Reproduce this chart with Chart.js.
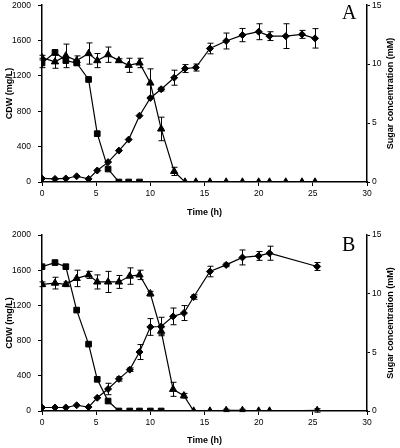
<!DOCTYPE html>
<html>
<head>
<meta charset="utf-8">
<script src="https://cdn.jsdelivr.net/npm/chart.js@4"></script>
<style>
    body { margin: 0; background: #fff; }
    canvas { display: block; }
</style>
</head>
<body>
<canvas id="chartA" width="400" height="222"></canvas>
<canvas id="chartB" width="400" height="226"></canvas>
<script>
// Panel A - times (h)
const timeA = [0, 1.2, 2.2, 3.2, 4.3, 5.1, 6.1, 7.1, 8, 9, 10, 11, 12.2, 13.2, 14.2, 15.5, 17, 18.5, 20, 21, 22.5, 24, 25.2];
// CDW (mg/L), diamonds
const cdwA = [40, 35, 40, 65, 35, 130, 225, 355, 480, 750, 950, 1050, 1180, 1283, 1295, 1510, 1595, 1662, 1700, 1650, 1650, 1670, 1625];
const cdwErrA = [0, 0, 0, 0, 0, 0, 0, 0, 0, 0, 0, 20, 85, 45, 40, 60, 90, 75, 90, 50, 140, 45, 110];
// sugars (mM), triangles and squares
const triA = [10.55, 10.2, 10.7, 10.3, 10.9, 10.3, 10.8, 10.3, 9.9, 10.1, 8.4, 4.5, 0.9, 0, 0, 0, 0, 0, 0, 0, 0, 0, 0];
const triErrA = [0.2, 0.55, 1.0, 0.4, 0.9, 0.6, 0.65, 0.15, 0.6, 0.4, 1.2, 1.0, 0.35, 0, 0, 0, 0, 0, 0, 0, 0, 0, 0];
const sqA = [10.1, 11.0, 10.3, 10.1, 8.7, 4.1, 1.1, 0, 0, 0];
const sqErrA = [0.4, 0, 0, 0, 0, 0, 0, 0, 0, 0];

// Panel B
const timeB = [0, 1.2, 2.2, 3.2, 4.3, 5.1, 6.1, 7.1, 8.1, 9, 10, 11, 12.1, 13.1, 14, 15.5, 17, 18.5, 20, 21, 25.4];
const cdwB = [40, 40, 40, 65, 45, 150, 250, 365, 470, 670, 955, 960, 1075, 1113, 1295, 1585, 1660, 1745, 1762, 1793, 1642];
const cdwErrB = [0, 0, 0, 0, 0, 0, 65, 25, 20, 85, 95, 105, 95, 85, 25, 60, 20, 85, 50, 80, 45];
const triB = [10.8, 10.9, 10.8, 11.3, 11.6, 11.0, 11.0, 11.0, 11.5, 11.6, 10.0, 6.8, 1.85, 1.3, 0, 0, 0.05, 0.05, 0, 0, 0.05];
const triErrB = [0.2, 0.5, 0.2, 0.7, 0.3, 0.6, 0.9, 0.55, 0.7, 0.4, 0.2, 0.3, 0.6, 0.2, 0, 0, 0.1, 0.1, 0, 0, 0.15];
const sqB = [12.3, 12.65, 12.3, 8.6, 5.7, 2.7, 0.85, 0, 0, 0, 0, 0];

// axis ticks
const timeTicks = { min: 0, max: 30, step: 5 };
const cdwTicks = { min: 0, max: 2000, step: 400 };
const sugarTicks = { min: 0, max: 15, step: 5 };

Chart.defaults.font.family = "'Liberation Sans', Arial, sans-serif";
Chart.defaults.color = '#000';

const toPoints = (times, values) => values.map((v, i) => ({ x: times[i], y: v }));
const plainLabel = v => String(v);

// error bars with caps, drawn with the chart scales
const errorBars = {
    id: 'errorBars',
    afterDatasetsDraw(chart) {
        const ctx = chart.ctx;
        const xScale = chart.scales.x;
        ctx.save();
        ctx.strokeStyle = '#000';
        ctx.lineWidth = 1;
        chart.data.datasets.forEach(ds => {
            if (!ds.errors) return;
            const yScale = chart.scales[ds.yAxisID];
            ds.data.forEach((p, j) => {
                const e = ds.errors[j];
                if (!e) return;
                const x = Math.round(xScale.getPixelForValue(p.x)) + 0.5;
                const top = yScale.getPixelForValue(p.y + e);
                const bot = yScale.getPixelForValue(p.y - e);
                ctx.beginPath();
                ctx.moveTo(x, top);
                ctx.lineTo(x, bot);
                ctx.moveTo(x - 3, top);
                ctx.lineTo(x + 3, top);
                ctx.moveTo(x - 3, bot);
                ctx.lineTo(x + 3, bot);
                ctx.stroke();
            });
        });
        ctx.restore();
    }
};

// panel letter and right axis title (reads bottom to top)
const extras = {
    id: 'extras',
    afterDraw(chart, args, opts) {
        const ctx = chart.ctx;
        const area = chart.chartArea;
        ctx.save();
        ctx.fillStyle = '#000';
        ctx.font = "20px 'Liberation Serif', 'Times New Roman', serif";
        ctx.textAlign = 'left';
        ctx.textBaseline = 'alphabetic';
        ctx.fillText(opts.letter, area.right - 25, area.top + opts.letterDy);

        ctx.translate(area.right + 24, (area.top + area.bottom) / 2);
        ctx.rotate(-Math.PI / 2);
        ctx.font = "bold 9px 'Liberation Sans', Arial, sans-serif";
        ctx.textAlign = 'center';
        ctx.textBaseline = 'middle';
        ctx.fillText('Sugar concentration (mM)', 0, 0);
        ctx.restore();
    }
};

function lineSet(data, errors, style, radius, axis) {
    return {
        data: data,
        errors: errors,
        yAxisID: axis,
        borderColor: '#000',
        backgroundColor: '#000',
        borderWidth: 1.2,
        pointStyle: style,
        pointRadius: radius,
        pointBackgroundColor: '#000',
        pointBorderColor: '#000',
        pointBorderWidth: 1,
        tension: 0
    };
}

function makeChart(id, letter, sets, cfg) {
    new Chart(document.getElementById(id), {
        type: 'line',
        data: { datasets: sets },
        options: {
            responsive: false,
            animation: false,
            devicePixelRatio: 1,
            layout: { padding: { top: cfg.top, left: 0, right: 0, bottom: 0 } },
            plugins: {
                legend: { display: false },
                tooltip: { enabled: false },
                extras: { letter: letter, letterDy: cfg.letterDy }
            },
            scales: {
                x: {
                    type: 'linear',
                    min: timeTicks.min,
                    max: timeTicks.max,
                    ticks: { stepSize: timeTicks.step, font: { size: 8.5 }, padding: 3, maxRotation: 0, callback: plainLabel },
                    grid: { drawOnChartArea: false, tickLength: 4, color: '#000' },
                    border: { color: '#000', width: 1.5 },
                    title: { display: true, text: 'Time (h)', font: { size: 9, weight: 'bold' }, padding: { top: 0, bottom: cfg.titleBottom } },
                    afterFit: s => { s.height = cfg.xHeight; s.paddingLeft = 0; s.paddingRight = 0; }
                },
                y: {
                    position: 'left',
                    min: cdwTicks.min,
                    max: cdwTicks.max,
                    ticks: { stepSize: cdwTicks.step, font: { size: 8.5 }, padding: 7, callback: plainLabel },
                    grid: { drawOnChartArea: false, tickLength: 4, color: '#000' },
                    border: { color: '#000', width: 1.5 },
                    title: { display: true, text: 'CDW (mg/L)', font: { size: 9, weight: 'bold' }, padding: { top: 4, bottom: 0 } },
                    afterFit: s => { s.width = 42; s.paddingTop = 0; s.paddingBottom = 0; }
                },
                y2: {
                    position: 'right',
                    min: sugarTicks.min,
                    max: sugarTicks.max,
                    ticks: { stepSize: sugarTicks.step, font: { size: 8.5 }, padding: 2, callback: plainLabel },
                    grid: { drawOnChartArea: false, tickLength: 3, color: '#000' },
                    border: { color: '#000', width: 1.5 },
                    afterFit: s => { s.width = 33; s.paddingTop = 0; s.paddingBottom = 0; }
                }
            }
        },
        plugins: [errorBars, extras]
    });
}

makeChart('chartA', 'A', [
    lineSet(toPoints(timeA, cdwA), cdwErrA, 'rectRot', 3.5, 'y'),
    lineSet(toPoints(timeA, triA), triErrA, 'triangle', 4.2, 'y2'),
    lineSet(toPoints(timeA, sqA), sqErrA, 'rect', 4, 'y2')
], { top: 4, xHeight: 40, titleBottom: 4, letterDy: 14 });

makeChart('chartB', 'B', [
    lineSet(toPoints(timeB, cdwB), cdwErrB, 'rectRot', 3.5, 'y'),
    lineSet(toPoints(timeB, triB), triErrB, 'triangle', 4.2, 'y2'),
    lineSet(toPoints(timeB, sqB), null, 'rect', 4, 'y2')
], { top: 13, xHeight: 37, titleBottom: 2, letterDy: 16 });
</script>
</body>
</html>
